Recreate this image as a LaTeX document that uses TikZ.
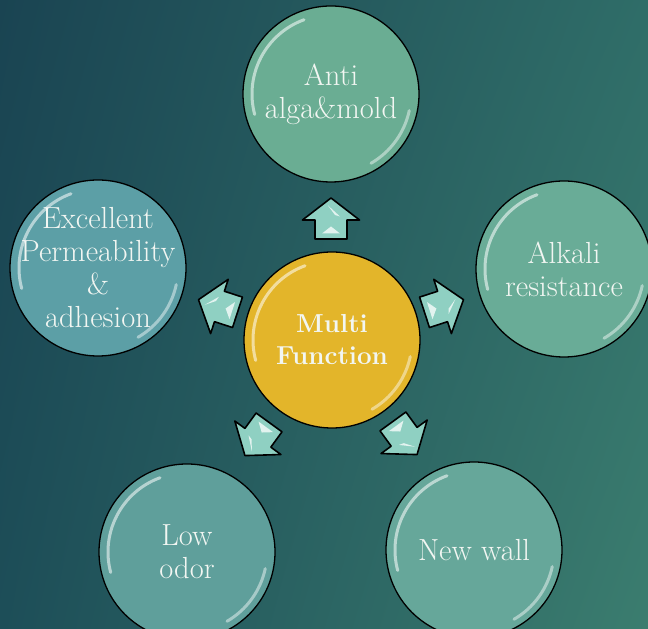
\documentclass[tikz,border=0pt]{standalone}
\usetikzlibrary{calc,shadings}
\definecolor{bgUL}{HTML}{1A4452}
\definecolor{bgUR}{HTML}{2F6D68}
\definecolor{bgLL}{HTML}{1D4E58}
\definecolor{bgLR}{HTML}{3B7D6F}
\definecolor{cTop}{HTML}{6AAD93}
\definecolor{cLeft}{HTML}{5C9FA6}
\definecolor{cRight}{HTML}{69AC97}
\definecolor{cBL}{HTML}{5F9F9B}
\definecolor{cBR}{HTML}{66A79A}
\definecolor{cMid}{HTML}{E3B52A}
\definecolor{arrFill}{HTML}{8FD0C2}
\definecolor{txt}{HTML}{F2F6F2}
\tikzset{
  bub/.style={circle, draw=black, line width=1.3pt, minimum size=176pt, inner sep=0pt,
    text=txt, align=center, font=\fontsize{30.5}{33}\selectfont},
  gloss/.style={white, line cap=round, opacity=0.55, line width=3pt},
  blockarr/.style={draw=black, line width=1.6pt, line join=round, fill=arrFill},
  shine/.style={fill=white, opacity=0.75, draw=none}
}
\newcommand{\glossy}[1]{%
  \draw[gloss] ([shift={(110:79pt)}]#1.center) arc[start angle=110, end angle=195, radius=79pt];
  \draw[gloss, opacity=0.45] ([shift={(-12:80pt)}]#1.center) arc[start angle=-12, end angle=-60, radius=80pt];
}
\newcommand{\blockarrow}[3]{%
  \begin{scope}[shift={(#1,#2)}, rotate=#3]
    \draw[blockarr] (0,20.5) -- (28.5,-1.5) -- (16,-1.5) -- (16,-20.5) -- (-16,-20.5) -- (-16,-1.5) -- (-28.5,-1.5) -- cycle;
    \fill[shine] (-3,13) -- (9,2) -- (4,3.5) -- cycle;
    \fill[shine] (-9,-15) -- (0,-8) -- (9,-15) -- cycle;
  \end{scope}
}
\begin{document}
\begin{tikzpicture}[x=1pt,y=1pt]
\useasboundingbox (0,0) rectangle (648,629);
\clip (0,0) rectangle (648,629);
\shade[upper left=bgUL, upper right=bgUR, lower left=bgLL, lower right=bgLR] (0,0) rectangle (648,629);

% arrows
\blockarrow{331}{410.5}{0}
\blockarrow{218}{323}{72}
\blockarrow{444}{323}{-72}
\blockarrow{257}{190}{144}
\blockarrow{405}{191}{-144}

% circles
\node[bub, fill=cTop] (top) at (331,535) {Anti\\alga\&mold};
\node[bub, fill=cLeft, inner sep=-30pt] (left) at (98,361) {Excellent\\Permeability\\\&\\adhesion};
\node[bub, fill=cRight] (right) at (564,360) {Alkali\\resistance};
\node[bub, fill=cBL] (bl) at (187,77) {Low\\odor};
\node[bub, fill=cBR] (br) at (474,79) {New wall};
\node[bub, fill=cMid, font=\bfseries\fontsize{26}{32}\selectfont] (mid) at (332,289) {Multi\\Function};

\glossy{top}
\glossy{left}
\glossy{right}
\glossy{bl}
\glossy{br}
\glossy{mid}
\end{tikzpicture}
\end{document}
